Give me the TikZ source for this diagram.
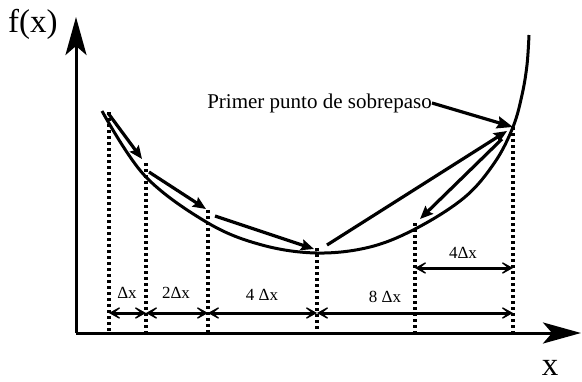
\documentclass[tikz,border=0pt]{standalone}
\usepackage{fontspec}
\setmainfont{Liberation Serif}
\usetikzlibrary{arrows.meta}
\begin{document}
\begin{tikzpicture}[x=1pt,y=-1pt,
  axis/.style={line width=3pt,-{Stealth[length=38pt,width=21pt,inset=9pt]}},
  curveline/.style={line width=3pt},
  searcharrow/.style={line width=3.2pt,-{Stealth[length=13pt,width=11pt,inset=2pt]}},
  guide/.style={line width=3.2pt,dash pattern=on 3pt off 3pt},
  dimline/.style={line width=3pt,{Stealth[length=17pt,width=19pt,inset=12pt]}-{Stealth[length=17pt,width=19pt,inset=12pt]}},
  biglbl/.style={font=\fontsize{33}{36}\selectfont,inner sep=0pt},
  lbl/.style={font=\fontsize{17}{20}\selectfont,inner sep=0pt},
  notelbl/.style={font=\fontsize{21}{25}\selectfont,inner sep=0pt}]
\useasboundingbox (0,0) rectangle (582,381);
% axes
\coordinate (O) at (76,333);
\coordinate (Ytip) at (76,17);
\coordinate (Xtip) at (581,333);
\draw[axis] (O) -- (Ytip);
\draw[axis] (O) -- (Xtip);
\node[biglbl,anchor=base west] (fx) at (8,32) {f(x)};
\node[biglbl,anchor=base] (xl) at (550,375) {x};
% curve
\draw[curveline] plot[smooth,tension=0.6] coordinates {(102,111) (145,176) (208,223) (262,245) (317,253) (370,247) (417,228) (465,197) (495,162) (513,127) (522,95) (527,65) (529,35)};
% search points
\coordinate (P0) at (109,112);
\coordinate (P1) at (146,163);
\coordinate (P2) at (208,210);
\coordinate (P3) at (317,248);
\coordinate (P4) at (513,127);
\coordinate (P5) at (415,223);
% base points
\coordinate (B0) at (109,333);
\coordinate (B1) at (146,333);
\coordinate (B2) at (208,333);
\coordinate (B3) at (317,333);
\coordinate (B4) at (513,333);
\coordinate (B5) at (415,333);
\foreach \i in {0,...,5} \draw[guide] (P\i) -- (B\i);
% search arrows
\coordinate (S1) at (108,113); \coordinate (T1) at (142,159);
\coordinate (S2) at (149,172); \coordinate (T2) at (206,209);
\coordinate (S3) at (215,216); \coordinate (T3) at (314,249);
\coordinate (S4) at (327,245); \coordinate (T4) at (507,131);
\coordinate (S5) at (502,139); \coordinate (T5) at (420,219);
\foreach \i in {1,...,5} \draw[searcharrow] (S\i) -- (T\i);
% overshoot label
\node[notelbl,anchor=east] (note) at (432,103) {Primer punto de sobrepaso};
\draw[searcharrow,-{Stealth[length=16pt,width=12pt,inset=2pt]}] (note.east) -- (P4);
% dimension lines
\coordinate (D0) at (109,313);
\coordinate (D1) at (146,313);
\coordinate (D2) at (208,313);
\coordinate (D3) at (317,313);
\coordinate (D4) at (513,313);
\coordinate (E5) at (415,268);
\coordinate (E4) at (513,268);
\draw[dimline] (D0) -- (D1);
\draw[dimline] (D1) -- (D2);
\draw[dimline] (D2) -- (D3);
\draw[dimline] (D3) -- (D4);
\draw[dimline] (E5) -- (E4);
\node[lbl] (l1) at (127,293) {Δx};
\node[lbl] (l2) at (176,293) {2Δx};
\node[lbl] (l3) at (262,295) {4 Δx};
\node[lbl] (l4) at (385,297) {8 Δx};
\node[lbl] (l5) at (463,253) {4Δx};
\end{tikzpicture}
\end{document}
